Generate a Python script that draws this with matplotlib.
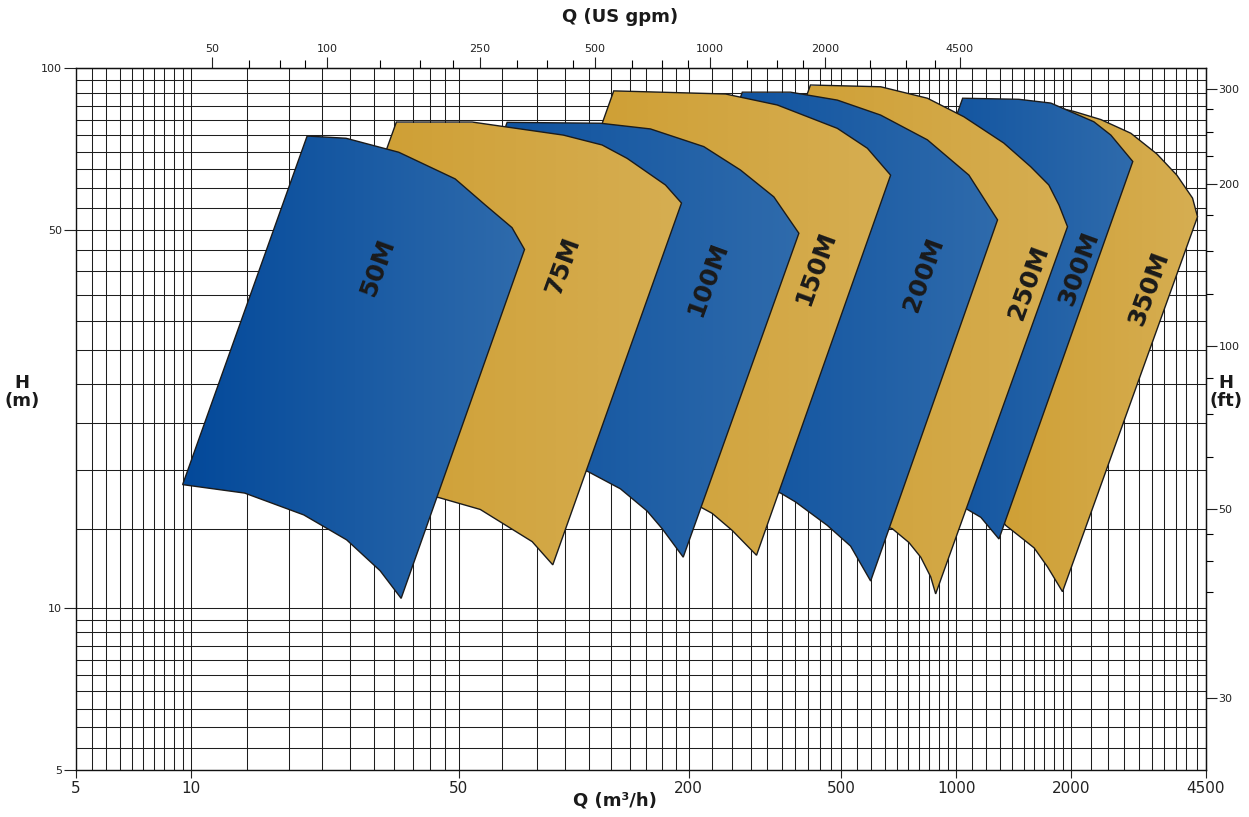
import numpy as np
import matplotlib
matplotlib.use("Agg")
import matplotlib.pyplot as plt
from matplotlib.patches import Polygon
from matplotlib.colors import LinearSegmentedColormap
from matplotlib.ticker import FixedLocator, FixedFormatter, NullFormatter

# pump ranges: Q in m3/h, H in m, traced from the top-left corner clockwise
q_50m = [20.1, 25.4, 34.9, 49.0, 58.8, 69.0, 74.4, 35.4, 31.2, 25.5, 19.7, 13.8, 9.5]
h_50m = [74.8, 74.1, 69.8, 62.3, 55.7, 50.6, 46.1, 10.4, 11.7, 13.35, 14.85, 16.3, 16.9]

q_75m = [34.4, 54.3, 94.0, 118.7, 138, 173.8, 191.4, 88.2, 77.9, 57.0, 44.3, 15.6]
h_75m = [79.4, 79.4, 75.1, 72.0, 68.0, 60.7, 56.2, 12.0, 13.25, 15.2, 16.0, 16.7]

q_100m = [67.0, 117.5, 158.8, 218.9, 273, 333.7, 388, 193.4, 170.4, 155.6, 132.5, 108.5, 31.8]
h_100m = [79.3, 79.0, 77.1, 71.5, 64.7, 57.7, 49.4, 12.4, 14.0, 15.1, 16.6, 17.9, 18.2]

q_150m = [127.3, 249.5, 340.7, 489, 586, 674, 300.7, 259.7, 230.2, 216.8, 168.6, 117.5, 58.4]
h_150m = [90.7, 89.5, 85.4, 77.3, 71.0, 63.3, 12.5, 13.9, 14.95, 15.3, 16.9, 18.6, 19.2]

q_200m = [276, 369, 489, 634.7, 841, 1080, 1283, 597.7, 529.6, 460.4, 380, 347.6, 131]
h_200m = [90.2, 90.2, 87.2, 81.8, 73.6, 63.3, 52.3, 11.2, 13.0, 14.2, 15.7, 16.3, 20.4]

q_250m = [416, 635, 841, 1048, 1332, 1567, 1747, 1858, 1955, 884, 858, 808, 752.6, 681, 190]
h_250m = [93.0, 92.3, 87.9, 81.2, 72.6, 65.6, 60.7, 55.7, 50.8, 10.6, 11.4, 12.4, 13.2, 14.0, 19.6]

q_300m = [1040, 1458, 1768, 2291, 2538, 2896, 1294, 1160, 1070, 511]
h_300m = [87.9, 87.5, 86.1, 79.5, 75.1, 67.1, 13.4, 14.7, 15.2, 21.3]

q_350m = [1567, 2030, 2389, 2862, 3348, 3776, 4150, 4277, 1897, 1733, 1599, 1505, 1348, 808]
h_350m = [86.7, 83.1, 80.25, 75.7, 69.3, 63.3, 57.4, 53.0, 10.7, 11.9, 12.9, 13.35, 14.2, 23.2]

pump_names = ["50M", "75M", "100M", "150M", "200M", "250M", "300M", "350M"]
pump_q = [q_50m, q_75m, q_100m, q_150m, q_200m, q_250m, q_300m, q_350m]
pump_h = [h_50m, h_75m, h_100m, h_150m, h_200m, h_250m, h_300m, h_350m]
label_q = [30.8, 94.0, 223.8, 429, 822, 1548, 2092, 3191]
label_h = [42.6, 43.1, 40.5, 42.6, 41.4, 40.1, 42.6, 39.1]

# axes ticks
q_major = [5, 10, 50, 200, 500, 1000, 2000, 4500]
h_major = [5, 10, 50, 100]
gpm_major = [50, 100, 250, 500, 1000, 2000, 4500]
ft_major = [300, 200, 100, 50, 22.35]  # the source sheet puts its "30" label down here
ft_major_labels = ["300", "200", "100", "50", "30"]
ft_minor = [275, 250, 225, 175, 150, 125, 87.5, 75, 62.5, 45, 40, 35]

M3H_TO_GPM = 4.40287
M_TO_FT = 3.28084

BLUE = ("#03499a", "#2f6bac")
GOLD = ("#cc9a2a", "#d6ae52")


def subdivide(edges, n):
    out = []
    for a, b in zip(edges[:-1], edges[1:]):
        out.extend(np.linspace(a, b, n + 1)[1:-1])
    return out


def gradient_fill(ax, q, h, colors, z):
    outline = Polygon(np.column_stack([q, h]), closed=True, fill=False,
                      edgecolor="#1b1b1b", lw=1.0, zorder=z + 0.5)
    ax.add_patch(outline)
    x0, x1 = min(q), max(q)
    xs = np.linspace(x0, x1, 400)
    t = (np.log10(xs) - np.log10(x0)) / (np.log10(x1) - np.log10(x0))
    cmap = LinearSegmentedColormap.from_list("g", list(colors))
    im = ax.imshow(t[None, :], cmap=cmap, vmin=0, vmax=1, aspect="auto",
                   extent=(x0, x1, min(h), max(h)), origin="lower",
                   interpolation="bilinear", zorder=z)
    im.set_clip_path(outline)


plt.rcParams["font.family"] = "DejaVu Sans"

fig = plt.figure(figsize=(12.49, 8.17), dpi=100)
ax = fig.add_axes([76 / 1249, 1 - 770 / 817, 1130 / 1249, 702 / 817])
ax.set_xscale("log")
ax.set_yscale("log")

for i, (q, h) in enumerate(zip(pump_q, pump_h)):
    colors = BLUE if i % 2 == 0 else GOLD
    gradient_fill(ax, q, h, colors, 20 - 2 * i)

for name, lq, lh in zip(pump_names, label_q, label_h):
    ax.text(lq, lh, name, rotation=70, rotation_mode="anchor", ha="center",
            va="center", fontsize=18, fontweight="bold", color="#1a1a1a", zorder=40)

ax.set_xlim(5, 4500)
ax.set_ylim(5, 100)

ax.xaxis.set_major_locator(FixedLocator(q_major))
ax.xaxis.set_major_formatter(FixedFormatter([str(v) for v in q_major]))
ax.xaxis.set_minor_locator(FixedLocator(subdivide(q_major, 10)))
ax.xaxis.set_minor_formatter(NullFormatter())
ax.yaxis.set_major_locator(FixedLocator(h_major))
ax.yaxis.set_major_formatter(FixedFormatter([str(v) for v in h_major]))
ax.yaxis.set_minor_locator(FixedLocator(subdivide([5, 10, 50, 100], 10)))
ax.yaxis.set_minor_formatter(NullFormatter())

ax.tick_params(axis="x", which="major", length=6, width=0.8, labelsize=11, pad=2, colors="#222")
ax.tick_params(axis="y", which="major", length=9, width=0.8, labelsize=8, pad=1, colors="#222")
ax.tick_params(which="minor", length=0)
ax.grid(which="both", color="#1e1e1e", lw=0.75, zorder=1)
ax.set_axisbelow(True)
for sp in ax.spines.values():
    sp.set_linewidth(1.0)
    sp.set_color("#111")

top = ax.secondary_xaxis("top", functions=(lambda x: x * M3H_TO_GPM, lambda x: x / M3H_TO_GPM))
top.xaxis.set_major_locator(FixedLocator(gpm_major))
top.xaxis.set_major_formatter(FixedFormatter([str(v) for v in gpm_major]))
top.xaxis.set_minor_locator(FixedLocator(subdivide(gpm_major, 4)))
top.xaxis.set_minor_formatter(NullFormatter())
top.tick_params(which="major", length=8, width=0.8, labelsize=8, pad=2, colors="#222")
top.tick_params(which="minor", length=5.5, width=0.8)

right = ax.secondary_yaxis("right", functions=(lambda y: y * M_TO_FT, lambda y: y / M_TO_FT))
right.yaxis.set_major_locator(FixedLocator(ft_major))
right.yaxis.set_major_formatter(FixedFormatter(ft_major_labels))
right.yaxis.set_minor_locator(FixedLocator(ft_minor))
right.yaxis.set_minor_formatter(NullFormatter())
right.tick_params(which="major", length=8, width=0.8, labelsize=8, pad=1, colors="#222")
right.tick_params(which="minor", length=5, width=0.8)

fig.text(620 / 1249, 1 - 17 / 817, "Q (US gpm)", ha="center", va="center",
         fontsize=13, fontweight="bold", color="#1a1a1a")
fig.text(615 / 1249, 1 - 800 / 817, "Q (m³/h)", ha="center", va="center",
         fontsize=13, fontweight="bold", color="#1a1a1a")
fig.text(22 / 1249, 1 - 392 / 817, "H\n(m)", ha="center", va="center",
         fontsize=13, fontweight="bold", color="#1a1a1a", linespacing=1.0)
fig.text(1226 / 1249, 1 - 392 / 817, "H\n(ft)", ha="center", va="center",
         fontsize=13, fontweight="bold", color="#1a1a1a", linespacing=1.0)

fig.savefig("out.png", dpi=100)
plt.close(fig)
